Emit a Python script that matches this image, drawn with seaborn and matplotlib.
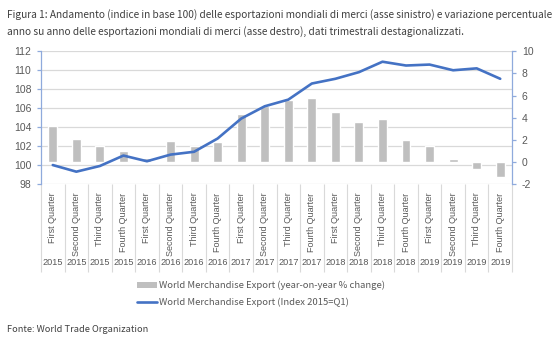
import matplotlib
matplotlib.use("Agg")
import matplotlib.pyplot as plt
import matplotlib.transforms as mtransforms
from matplotlib.patches import Patch
from matplotlib.lines import Line2D
import seaborn as sns
import pandas as pd
import numpy as np

# ---- data ----
quarters = ["First Quarter", "Second Quarter", "Third Quarter", "Fourth Quarter"] * 5
years = ["2015"] * 4 + ["2016"] * 4 + ["2017"] * 4 + ["2018"] * 4 + ["2019"] * 4
yoy_change = [3.2, 2.1, 1.45, 0.95, 0.35, 1.85, 1.45, 1.8, 4.35, 5.05,
              5.6, 5.8, 4.5, 3.6, 3.9, 1.95, 1.45, 0.25, -0.6, -1.35]
index_values = [100.0, 99.3, 99.9, 101.0, 100.4, 101.1, 101.4, 102.8, 104.9, 106.2,
                106.9, 108.6, 109.1, 109.8, 110.9, 110.5, 110.6, 110.0, 110.2, 109.1]
left_ticks = [98, 100, 102, 104, 106, 108, 110, 112]
right_ticks = [-2, 0, 2, 4, 6, 8, 10]

title = ("Figura 1: Andamento (indice in base 100) delle esportazioni mondiali di merci (asse sinistro) e variazione percentuale\n"
         "anno su anno delle esportazioni mondiali di merci (asse destro), dati trimestrali destagionalizzati.")
bar_label = "World Merchandise Export (year-on-year % change)"
line_label = "World Merchandise Export (Index 2015=Q1)"
source = "Fonte: World Trade Organization"

df = pd.DataFrame({
    "period": [f"{q} {y}" for q, y in zip(quarters, years)],
    "quarter": quarters,
    "year": years,
    "yoy": yoy_change,
    "index": index_values,
})

# ---- style ----
sns.set_theme(style="white")
plt.rcParams["font.family"] = ["Noto Sans CJK JP", "DejaVu Sans"]

BAR_C = "#BFBFBF"
LINE_C = "#4472C4"
AXIS_C = "#8FAADC"
GRID_C = "#D9D9D9"
TXT_C = "#595959"
TICK_FONT = ["Liberation Sans", "DejaVu Sans"]

fig = plt.figure(figsize=(5.6, 3.41), dpi=100)
W, H = 560, 341
ax = fig.add_axes([41 / W, 1 - 184 / H, 471 / W, 132.7 / H])
ax_b = ax.twinx()
ax_l = ax.twinx()

# bars (right axis)
sns.barplot(data=df, x="period", y="yoy", order=list(df["period"]), color=BAR_C,
            width=0.38, saturation=1, ax=ax_b)
# line (left scale)
sns.pointplot(data=df, x="period", y="index", order=list(df["period"]), color=LINE_C,
              markers="", linestyles="-", ax=ax_l, errorbar=None)
for ln in ax_l.lines:
    ln.set_linewidth(1.9)
    ln.set_solid_capstyle("round")
    ln.set_solid_joinstyle("round")

for a in (ax, ax_b, ax_l):
    a.set_xlim(-0.5, len(quarters) - 0.5)
    a.set_xlabel("")
    a.set_ylabel("")

ax.set_ylim(98, 112)
ax_l.set_ylim(98, 112)
ax_b.set_ylim(-2, 10)

# left axis / grid
ax.set_yticks(left_ticks)
ax.set_yticklabels([str(t) for t in left_ticks], family=TICK_FONT, fontsize=7.5, color=TXT_C)
ax.yaxis.grid(True, color=GRID_C, linewidth=0.9)
ax.set_axisbelow(True)
ax.tick_params(axis="y", length=3, width=0.9, color=AXIS_C, pad=4, left=True)

# right axis
ax_b.set_yticks(right_ticks)
ax_b.set_yticklabels([str(t) for t in right_ticks], family=TICK_FONT, fontsize=7.5, color=TXT_C)
ax_b.tick_params(axis="y", length=3, width=0.9, color=AXIS_C, pad=4, right=True)
ax_b.grid(False)

ax_l.set_yticks([])
ax_l.grid(False)

for a in (ax, ax_b, ax_l):
    for s in a.spines.values():
        s.set_visible(False)
ax.spines["left"].set_visible(True)
ax.spines["left"].set_color(AXIS_C)
ax.spines["left"].set_linewidth(0.9)
ax_b.spines["right"].set_visible(True)
ax_b.spines["right"].set_color(AXIS_C)
ax_b.spines["right"].set_linewidth(0.9)

# x axis: table-like category labels
for a in (ax_b, ax_l):
    a.set_xticks([])
ax.set_xticks(np.arange(-0.5, len(quarters), 1.0))
ax.set_xticklabels([])
ax.tick_params(axis="x", bottom=True, length=63, width=0.8, color=GRID_C, direction="out")

trans = mtransforms.blended_transform_factory(ax.transData, ax.transAxes)
for i, (q, y) in enumerate(zip(quarters, years)):
    ax.text(i, -0.065, q, rotation=90, ha="center", va="top", transform=trans,
            fontsize=6.5, color=TXT_C, family=TICK_FONT)
    ax.text(i, -0.595, y, ha="center", va="center", transform=trans,
            fontsize=6.6, color=TXT_C, family=TICK_FONT)

# title, legend, source
fig.text(7 / W, 1 - 23 / H, title, ha="left", va="center", fontsize=7.3,
         color="#404040", linespacing=1.6)

handles = [Patch(facecolor=BAR_C, edgecolor="none"),
           Line2D([0], [0], color=LINE_C, linewidth=1.9)]
fig.legend(handles, [bar_label, line_label], loc="upper left",
           bbox_to_anchor=(137 / W, 1 - 281 / H), frameon=False, fontsize=6.8,
           handlelength=2.1, handleheight=0.5, handletextpad=0.2, labelspacing=0.75,
           borderaxespad=0, borderpad=0, labelcolor=TXT_C)

fig.text(7 / W, 1 - 329 / H, source, ha="left", va="center", fontsize=6.7, color="#404040")

fig.savefig("out.png", dpi=100)
